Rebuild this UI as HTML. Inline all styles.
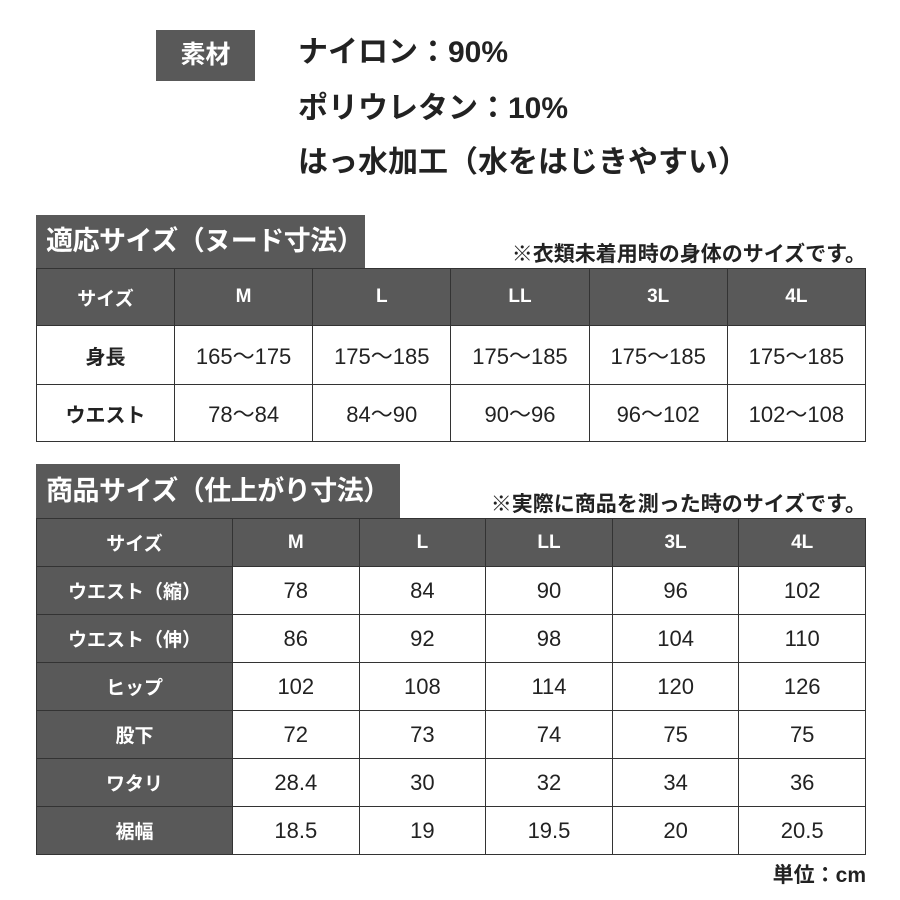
<!DOCTYPE html>
<html><head><meta charset="utf-8"><style>
body{margin:0;width:900px;height:900px;background:#fff;position:relative;overflow:hidden;font-family:"Liberation Sans","Noto Sans CJK JP",sans-serif;color:#222}
.abs{position:absolute}
.tag{left:156px;top:30px;width:99px;height:51px;background:#595959;color:#fff;font-weight:bold;font-size:25px;line-height:51px;text-align:center}
.mat{left:298px;font-size:30px;font-weight:bold;line-height:36px;color:#222;white-space:nowrap}
.tab{background:#595959;color:#fff;font-weight:bold;font-size:27px;padding-left:10px;box-sizing:border-box;white-space:nowrap;overflow:hidden;letter-spacing:-0.5px}
.note{font-size:21px;font-weight:bold;right:34px;color:#222;white-space:nowrap}
table{position:absolute;border-collapse:collapse;table-layout:fixed;left:36px;width:830px}
td{border:1.5px solid #333;text-align:center;padding:0;font-size:22px;color:#222}
.h td{background:#595959;color:#fff;font-weight:bold;font-size:19px}
td.f{background:#595959;color:#fff;font-weight:bold;font-size:19px}
td.w{font-weight:bold;font-size:20px;background:#fff;color:#222}
</style></head><body>
<div class="abs tag">素材</div>
<div class="abs mat" style="top:35px">ナイロン：90%</div>
<div class="abs mat" style="top:91px">ポリウレタン：10%</div>
<div class="abs mat" style="top:145px">はっ水加工（水をはじきやすい）</div>

<div class="abs tab" style="left:36px;top:215px;width:329px;height:54px;line-height:52px">適応サイズ（ヌード寸法）</div>
<div class="abs note" style="top:238px">※衣類未着用時の身体のサイズです。</div>
<table style="top:268px">
<colgroup><col style="width:138px"><col><col><col><col><col></colgroup>
<tr class="h" style="height:57px"><td>サイズ</td><td>M</td><td>L</td><td>LL</td><td>3L</td><td>4L</td></tr>
<tr style="height:59px"><td class="w">身長</td><td>165～175</td><td>175～185</td><td>175～185</td><td>175～185</td><td>175～185</td></tr>
<tr style="height:57px"><td class="w">ウエスト</td><td>78～84</td><td>84～90</td><td>90～96</td><td>96～102</td><td>102～108</td></tr>
</table>

<div class="abs tab" style="left:36px;top:464px;width:364px;height:55px;line-height:54px">商品サイズ（仕上がり寸法）</div>
<div class="abs note" style="top:488px">※実際に商品を測った時のサイズです。</div>
<table style="top:518px">
<colgroup><col style="width:196px"><col><col><col><col><col></colgroup>
<tr class="h" style="height:48px"><td>サイズ</td><td>M</td><td>L</td><td>LL</td><td>3L</td><td>4L</td></tr>
<tr style="height:48px"><td class="f">ウエスト（縮）</td><td>78</td><td>84</td><td>90</td><td>96</td><td>102</td></tr>
<tr style="height:48px"><td class="f">ウエスト（伸）</td><td>86</td><td>92</td><td>98</td><td>104</td><td>110</td></tr>
<tr style="height:48px"><td class="f">ヒップ</td><td>102</td><td>108</td><td>114</td><td>120</td><td>126</td></tr>
<tr style="height:48px"><td class="f">股下</td><td>72</td><td>73</td><td>74</td><td>75</td><td>75</td></tr>
<tr style="height:48px"><td class="f">ワタリ</td><td>28.4</td><td>30</td><td>32</td><td>34</td><td>36</td></tr>
<tr style="height:48px"><td class="f">裾幅</td><td>18.5</td><td>19</td><td>19.5</td><td>20</td><td>20.5</td></tr>
</table>
<div class="abs note" style="top:859px">単位：cm</div>
</body></html>
